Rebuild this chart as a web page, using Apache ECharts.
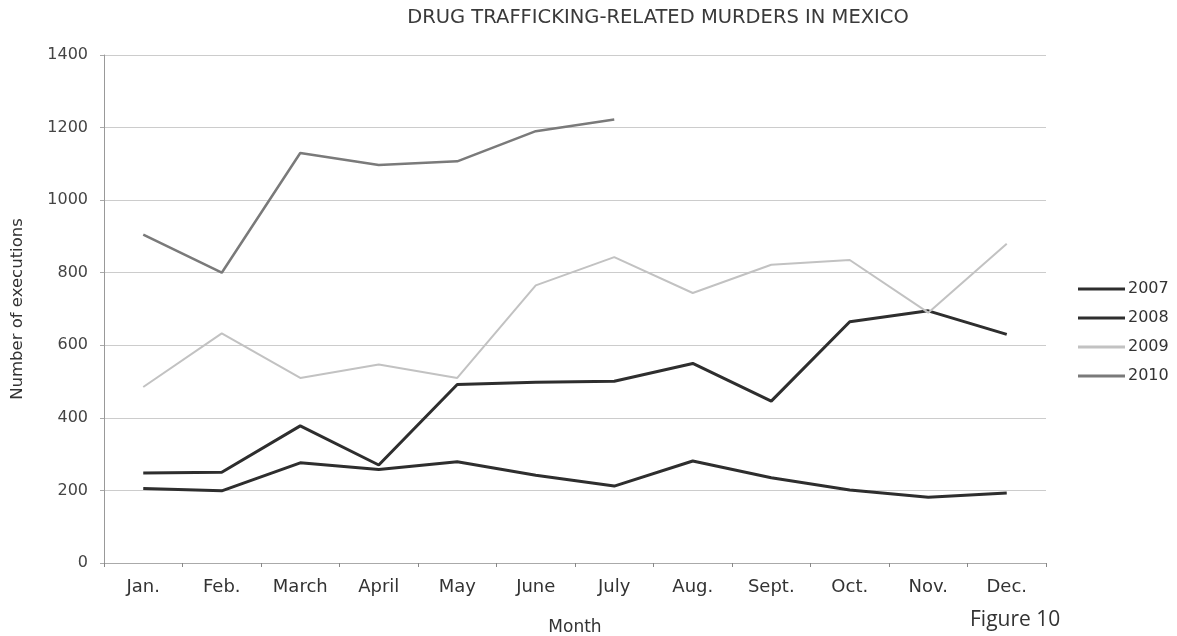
<!DOCTYPE html>
<html><head><meta charset="utf-8">
<script src="https://cdn.jsdelivr.net/npm/echarts@6/dist/echarts.min.js"></script>
<style>html,body{margin:0;padding:0;background:#fff}#c{width:1177px;height:636px}</style>
</head><body><div id="c"></div>
<script>
const months = ['Jan.','Feb.','March','April','May','June','July','Aug.','Sept.','Oct.','Nov.','Dec.'];
const yTicks = [0,200,400,600,800,1000,1200,1400];
const s2007 = [205, 199, 276, 258, 279, 242, 212, 281, 235, 201, 181, 193];
const s2008 = [248, 250, 378, 270, 492, 498, 501, 550, 446, 665, 695, 630];
const s2009 = [485, 633, 510, 547, 510, 765, 843, 744, 822, 835, 690, 880];
const s2010 = [905, 800, 1130, 1097, 1107, 1190, 1222];

const chart = echarts.init(document.getElementById('c'), null, {renderer:'canvas'});
const FONT = 'DejaVu Sans';
function line(name, data, color, width){
  return {name, type:'line', data, symbol:'none', color, lineStyle:{color, width}, emphasis:{disabled:true}, z: 3};
}
chart.setOption({
  animation:false,
  backgroundColor:'#fff',
  title:{text:'DRUG TRAFFICKING-RELATED MURDERS IN MEXICO', left:658, textAlign:'center', top:8, padding:0,
    textStyle:{fontFamily:FONT, fontSize:19.5, fontWeight:'normal', color:'#3a3a3a'}},
  grid:{left:104, right:131, top:55, bottom:73, containLabel:false, outerBoundsMode:'none'},
  legend:{orient:'vertical', left:1078, top:281, padding:0, itemWidth:47, itemHeight:3, itemGap:13, icon:'rect',
    textStyle:{fontFamily:FONT, fontSize:16, color:'#333', padding:[0,0,0,-2]},
    data:['2007','2008','2009','2010']},
  xAxis:{type:'category', data:months, boundaryGap:true, name:'Month', nameLocation:'middle', nameGap:56,
    nameTextStyle:{fontFamily:FONT, fontSize:17, color:'#333'},
    axisLine:{lineStyle:{color:'#aaa'}}, axisTick:{show:true, length:4, lineStyle:{color:'#888'}},
    axisLabel:{fontFamily:FONT, fontSize:18, color:'#333', margin:15}},
  yAxis:{type:'value', min:0, max:1400, interval:200, name:'Number of executions', nameLocation:'middle', nameGap:78,
    nameTextStyle:{fontFamily:FONT, fontSize:16.5, color:'#333'},
    axisLine:{show:true, lineStyle:{color:'#999'}}, axisTick:{show:true, length:4, lineStyle:{color:'#aaa'}},
    axisLabel:{fontFamily:FONT, fontSize:16, color:'#444', margin:16, formatter:v=>yTicks.includes(v)?String(v):''},
    splitLine:{lineStyle:{color:'#ccc', width:1}}},
  series:[
    line('2007', s2007, '#2e2e2e', 3),
    line('2008', s2008, '#2e2e2e', 3),
    line('2009', s2009, '#c2c2c2', 2),
    line('2010', s2010, '#7a7a7a', 2.5)
  ],
  graphic:[{type:'text', left:970, top:610, style:{text:'Figure 10', fontFamily:'Open Sans', fontSize:21, fill:'#333'}}]
});
</script></body></html>
